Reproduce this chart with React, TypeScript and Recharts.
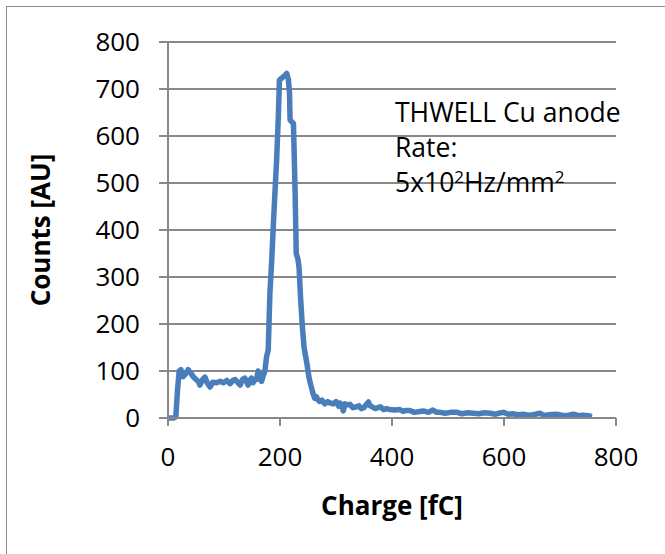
import React from 'react';
import { LineChart, Line, XAxis, YAxis, CartesianGrid } from 'recharts';

// charge [fC] and counts [AU]
const charge = [
  0, 10, 14, 17, 20, 23, 27, 32, 36, 41, 45, 50, 54, 57, 62, 66, 70, 75, 80, 87,
  93, 99, 105, 111, 116, 120, 125, 129, 133, 137, 140, 143, 146, 149, 152, 155, 158, 161, 164, 167,
  170, 173, 176, 179, 182, 185, 188, 191, 194, 197, 199, 203, 208, 212, 215, 217, 218, 221, 224, 227,
  229, 232, 234, 237, 240, 243, 248, 252, 255, 259, 262, 265, 268, 271, 275, 280, 285, 289, 295, 300,
  305, 307, 310, 313, 316, 320, 325, 330, 337, 341, 345, 350, 355, 358, 361, 364, 370, 375, 379, 385,
  390, 396, 405, 414, 420, 425, 432, 440, 450, 456, 465, 473, 480, 486, 495, 505, 516, 525, 535, 545,
  555, 565, 575, 585, 590, 599, 608, 615, 625, 634, 644, 652, 664, 672, 680, 694, 703, 712, 724, 733,
  741, 750, 757,
];
const counts = [
  0, 0, 2, 60, 100, 103, 88, 95, 103, 95, 88, 82, 78, 70, 82, 87, 75, 66, 76, 75,
  78, 75, 80, 73, 80, 82, 75, 70, 82, 85, 78, 70, 80, 85, 75, 82, 82, 100, 85, 78,
  90, 100, 130, 145, 266, 330, 407, 480, 549, 640, 719, 723, 728, 733, 720, 691, 634, 630, 627, 480,
  350, 338, 320, 250, 194, 150, 116, 85, 70, 52, 42, 45, 38, 35, 38, 30, 35, 32, 30, 35,
  25, 32, 28, 15, 30, 28, 29, 22, 24, 26, 20, 22, 30, 34, 26, 24, 20, 22, 24, 18,
  20, 18, 17, 18, 14, 16, 16, 12, 14, 15, 12, 17, 12, 12, 10, 12, 12, 9, 11, 10,
  9, 11, 10, 8, 10, 12, 8, 9, 7, 8, 6, 7, 10, 5, 7, 8, 6, 5, 8, 5,
  6, 5, 3,
];
const xTicks = [0, 200, 400, 600, 800];
const yTicks = [0, 100, 200, 300, 400, 500, 600, 700, 800];

const data = charge.map((c, i) => ({ charge: c, counts: counts[i] }));

const FONT = '"Open Sans", Calibri, sans-serif';
const GRID = '#888888';

export default function App() {
  const sup = { fontSize: 17, verticalAlign: 'top', lineHeight: '24px' };
  return (
    <div style={{ position: 'absolute', left: 0, top: 0, width: 665, height: 554, overflow: 'hidden', background: '#fff', fontFamily: FONT }}>
      <div style={{ position: 'absolute', left: 6, top: 6, width: 720, height: 620, border: '1.5px solid #8c8c8c' }} />
      <LineChart width={665} height={554} data={data} margin={{ top: 42, right: 49, left: 88, bottom: 86 }}>
        <CartesianGrid vertical={false} stroke={GRID} strokeWidth={2} />
        <XAxis
          dataKey="charge"
          type="number"
          domain={[0, 800]}
          ticks={xTicks}
          height={50}
          tickSize={8}
          tickMargin={22}
          stroke={GRID}
          strokeWidth={2}
          tick={{ fill: '#000', fontSize: 26, fontFamily: FONT }}
        />
        <YAxis
          type="number"
          domain={[0, 800]}
          ticks={yTicks}
          width={80}
          tickSize={9}
          tickMargin={19}
          stroke={GRID}
          strokeWidth={2}
          tick={{ fill: '#000', fontSize: 26, fontFamily: FONT }}
        />
        <Line
          type="linear"
          dataKey="counts"
          stroke="#4a7ebb"
          strokeWidth={5.5}
          strokeLinejoin="round"
          dot={false}
          isAnimationActive={false}
        />
      </LineChart>
      <div style={{ position: 'absolute', left: 392, top: 487, transform: 'translateX(-50%)', fontSize: 26, fontWeight: 'bold', whiteSpace: 'nowrap' }}>
        Charge [fC]
      </div>
      <div style={{ position: 'absolute', left: 40, top: 230, transform: 'translate(-50%, -50%) rotate(-90deg)', fontSize: 26, fontWeight: 'bold', whiteSpace: 'nowrap' }}>
        Counts [AU]
      </div>
      <div style={{ position: 'absolute', left: 395, top: 95, fontSize: 26.5, lineHeight: '35px', whiteSpace: 'nowrap' }}>
        <div>THWELL Cu anode</div>
        <div>Rate:</div>
        <div>5x10<sup style={sup}>2</sup>Hz/mm<sup style={sup}>2</sup></div>
      </div>
    </div>
  );
}
